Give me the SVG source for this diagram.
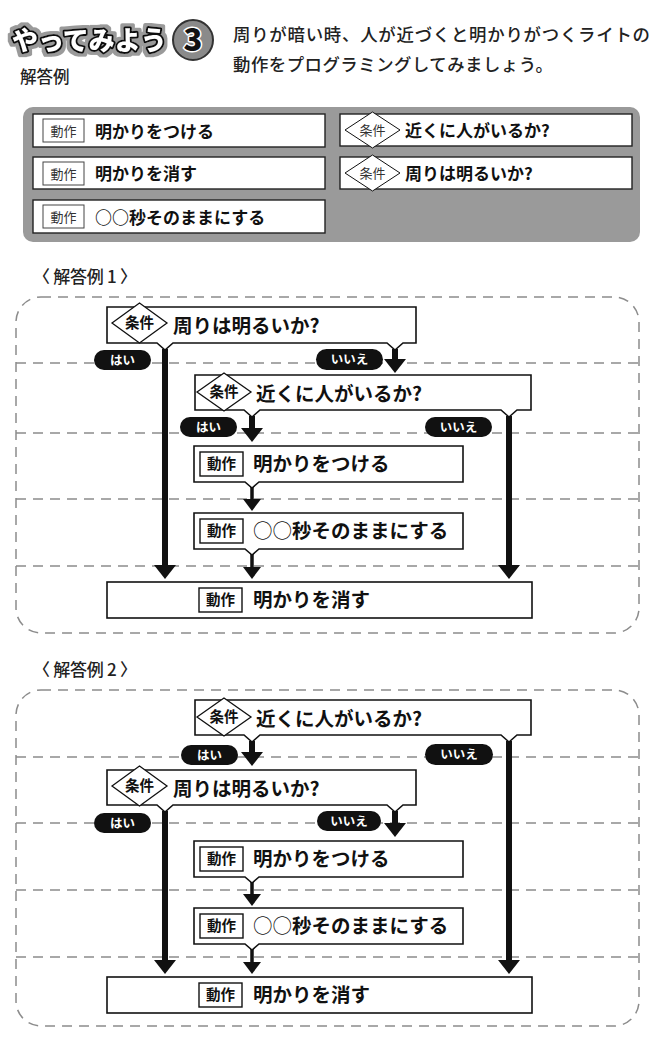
<svg xmlns="http://www.w3.org/2000/svg" width="656" height="1041" viewBox="0 0 656 1041">
<style>
text{font-family:"Noto Sans CJK JP","Noto Sans CJK SC",sans-serif;fill:#111}
.box{fill:#fff;stroke:#111;stroke-width:1.6}
.pbox{fill:#fff;stroke:#222;stroke-width:1.4}
.lbl{fill:#fff;stroke:#111;stroke-width:1.4}
.plbl{fill:#fff;stroke:#444;stroke-width:1}
.dia{fill:#fff;stroke:#111;stroke-width:1.3}
.t{font-size:19.5px;font-weight:700}
.pt{font-size:17px;font-weight:700}
.tl{font-size:14.5px;font-weight:700;text-anchor:middle}
.ptl{font-size:13px;font-weight:400;text-anchor:middle;fill:#333}
.pill{fill:#111}
.yn{font-size:12.5px;font-weight:700;text-anchor:middle;fill:#fff}
.dash{fill:none;stroke:#8c8c8c;stroke-width:1.5;stroke-dasharray:10 7}
.sh{stroke:#111;stroke-width:6;fill:none}
.sh2{stroke:#111;stroke-width:3.5;fill:none}
.hd{font-size:17.4px;font-weight:500;fill:#222}
</style>
<defs>
<marker id="ah" markerUnits="userSpaceOnUse" markerWidth="14" markerHeight="22" refX="0" refY="11" orient="auto"><path d="M0,0 L14,11 L0,22 Z" fill="#111"/></marker>
<marker id="ah2" markerUnits="userSpaceOnUse" markerWidth="12" markerHeight="18" refX="0" refY="9" orient="auto"><path d="M0,0 L12,9 L0,18 Z" fill="#111"/></marker>
<filter id="halo" x="-10%" y="-30%" width="120%" height="160%">
<feMorphology in="SourceAlpha" operator="dilate" radius="2.5" result="d"/>
<feFlood flood-color="#9a9a9a"/>
<feComposite in2="d" operator="in" result="g"/>
<feMerge><feMergeNode in="g"/><feMergeNode in="SourceGraphic"/></feMerge>
</filter>
</defs>
<rect width="656" height="1041" fill="#fff"/>

<!-- header -->
<g id="title">
<text x="12" y="50" font-size="26" font-weight="900" stroke="#111" stroke-width="4" stroke-linejoin="round" paint-order="stroke" filter="url(#halo)" style="fill:#fff">やってみよう</text>
<circle cx="193" cy="40" r="20" fill="#8a8a8a" stroke="#333" stroke-width="2"/>
<text x="193" y="51" font-size="31" font-weight="900" text-anchor="middle" stroke="#fff" stroke-width="3" paint-order="stroke" stroke-linejoin="round">3</text>
<text class="hd" x="233" y="41" textLength="417" lengthAdjust="spacing">周りが暗い時、人が近づくと明かりがつくライトの</text>
<text class="hd" x="233" y="71" textLength="320" lengthAdjust="spacing">動作をプログラミングしてみましょう。</text>
<text x="20" y="83" font-size="16.5" font-weight="500" style="fill:#222">解答例</text>
</g>

<!-- palette -->
<g id="palette">
<rect x="23" y="107" width="617" height="135" rx="10" fill="#9a9a9a"/>
<g id="p-on">
<rect class="pbox" x="33" y="114" width="292" height="33"/>
<rect class="plbl" x="43" y="119" width="41" height="23"/>
<text class="ptl" x="63.5" y="135.5">動作</text>
<text class="pt" x="95" y="137.5">明かりをつける</text>
</g>
<g id="p-off">
<rect class="pbox" x="33" y="157" width="292" height="32"/>
<rect class="plbl" x="43" y="162" width="41" height="23"/>
<text class="ptl" x="63.5" y="178.5">動作</text>
<text class="pt" x="95" y="180">明かりを消す</text>
</g>
<g id="p-wait">
<rect class="pbox" x="33" y="200" width="292" height="33"/>
<rect class="plbl" x="43" y="205" width="41" height="23"/>
<text class="ptl" x="63.5" y="221.5">動作</text>
<text class="pt" x="95" y="223.5">○○秒そのままにする</text>
</g>
<g id="p-near">
<rect class="pbox" x="340" y="114" width="292" height="32"/>
<polygon class="dia" points="345,130 372.5,112 400,130 372.5,148" style="stroke-width:1"/>
<text class="ptl" x="372.5" y="135">条件</text>
<text class="pt" x="405" y="137">近くに人がいるか?</text>
</g>
<g id="p-bright">
<rect class="pbox" x="340" y="157" width="292" height="32"/>
<polygon class="dia" points="345,173 372.5,155 400,173 372.5,191" style="stroke-width:1"/>
<text class="ptl" x="372.5" y="178">条件</text>
<text class="pt" x="405" y="180">周りは明るいか?</text>
</g>
</g>

<!-- answer 1 -->
<text x="33" y="283" font-size="17" font-weight="500" textLength="104" lengthAdjust="spacing" style="fill:#222">〈 解答例 1 〉</text>
<g id="frame1">
<rect class="dash" x="16" y="297" width="623" height="336" rx="25"/>
<path class="dash" d="M16,363 H639 M16,433 H639 M16,499 H639 M16,566 H639"/>
</g>

<g id="connectors1">
<line class="sh" x1="165" y1="349" x2="165" y2="565" marker-end="url(#ah)"/>
<line class="sh" x1="395" y1="349" x2="395" y2="359" marker-end="url(#ah)"/>
<line class="sh" x1="252" y1="416" x2="252" y2="428" marker-end="url(#ah)"/>
<line class="sh" x1="509" y1="416" x2="509" y2="565" marker-end="url(#ah)"/>
<line class="sh2" x1="252" y1="487" x2="252" y2="499" marker-end="url(#ah2)"/>
<line class="sh2" x1="252" y1="554" x2="252" y2="567" marker-end="url(#ah2)"/>
</g>

<g id="a1-bright">
<path class="box" d="M107,307 H416 V343 H403 L395,350 L387,343 H173 L165,350 L157,343 H107 Z"/>
<polygon class="dia" points="112,323 139.5,303 167,323 139.5,343"/>
<text class="tl" x="139.5" y="328">条件</text>
<text class="t" x="173" y="333">周りは明るいか?</text>
</g>
<g id="a1-near">
<path class="box" d="M195,375 H531 V410 H517 L509,417 L501,410 H260 L252,417 L244,410 H195 Z"/>
<polygon class="dia" points="197,392 224,373 251,392 224,411"/>
<text class="tl" x="224" y="397">条件</text>
<text class="t" x="256" y="401">近くに人がいるか?</text>
</g>
<g id="a1-on">
<path class="box" d="M194,446 H463 V482 H259 L252,488 L245,482 H194 Z"/>
<rect class="lbl" x="200" y="452" width="43" height="24"/>
<text class="tl" x="221.5" y="469">動作</text>
<text class="t" x="253" y="471">明かりをつける</text>
</g>
<g id="a1-wait">
<path class="box" d="M194,513 H463 V549 H259 L252,555 L245,549 H194 Z"/>
<rect class="lbl" x="200" y="519" width="43" height="24"/>
<text class="tl" x="221.5" y="536">動作</text>
<text class="t" x="253" y="538"><tspan font-weight="400">○○</tspan>秒そのままにする</text>
</g>
<g id="a1-off">
<rect class="box" x="107" y="582" width="425" height="36"/>
<rect class="lbl" x="199" y="588" width="43" height="24"/>
<text class="tl" x="220.5" y="605">動作</text>
<text class="t" x="253" y="607">明かりを消す</text>
</g>
<g id="a1-labels">
<rect class="pill" x="94" y="350" width="57" height="20" rx="10"/>
<text class="yn" x="122.5" y="364.5">はい</text>
<rect class="pill" x="316" y="349" width="67" height="21" rx="10.5"/>
<text class="yn" x="349.5" y="364">いいえ</text>
<rect class="pill" x="180" y="417" width="57" height="20" rx="10"/>
<text class="yn" x="208.5" y="431.5">はい</text>
<rect class="pill" x="425" y="417" width="67" height="20" rx="10"/>
<text class="yn" x="458.5" y="431.5">いいえ</text>
</g>

<!-- answer 2 -->
<text x="33" y="676" font-size="17" font-weight="500" textLength="104" lengthAdjust="spacing" style="fill:#222">〈 解答例 2 〉</text>
<g id="frame2">
<rect class="dash" x="16" y="690" width="623" height="336" rx="25"/>
<path class="dash" d="M16,757 H639 M16,823 H639 M16,890 H639 M16,957 H639"/>
</g>

<g id="connectors2">
<line class="sh" x1="252" y1="741" x2="252" y2="752" marker-end="url(#ah)"/>
<line class="sh" x1="509" y1="741" x2="509" y2="960" marker-end="url(#ah)"/>
<line class="sh" x1="165" y1="811" x2="165" y2="960" marker-end="url(#ah)"/>
<line class="sh" x1="395" y1="811" x2="395" y2="823" marker-end="url(#ah)"/>
<line class="sh2" x1="252" y1="882" x2="252" y2="894" marker-end="url(#ah2)"/>
<line class="sh2" x1="252" y1="949" x2="252" y2="962" marker-end="url(#ah2)"/>
</g>

<g id="a2-near">
<path class="box" d="M195,700 H531 V735 H517 L509,742 L501,735 H260 L252,742 L244,735 H195 Z"/>
<polygon class="dia" points="197,717 224,698 251,717 224,736"/>
<text class="tl" x="224" y="722">条件</text>
<text class="t" x="256" y="726">近くに人がいるか?</text>
</g>
<g id="a2-bright">
<path class="box" d="M107,770 H416 V805 H403 L395,812 L387,805 H173 L165,812 L157,805 H107 Z"/>
<polygon class="dia" points="112,786 139.5,766 167,786 139.5,806"/>
<text class="tl" x="139.5" y="791">条件</text>
<text class="t" x="173" y="796">周りは明るいか?</text>
</g>
<g id="a2-on">
<path class="box" d="M194,841 H463 V877 H259 L252,883 L245,877 H194 Z"/>
<rect class="lbl" x="200" y="847" width="43" height="24"/>
<text class="tl" x="221.5" y="864">動作</text>
<text class="t" x="253" y="866">明かりをつける</text>
</g>
<g id="a2-wait">
<path class="box" d="M194,908 H463 V944 H259 L252,950 L245,944 H194 Z"/>
<rect class="lbl" x="200" y="914" width="43" height="24"/>
<text class="tl" x="221.5" y="931">動作</text>
<text class="t" x="253" y="933"><tspan font-weight="400">○○</tspan>秒そのままにする</text>
</g>
<g id="a2-off">
<rect class="box" x="107" y="977" width="425" height="36"/>
<rect class="lbl" x="199" y="983" width="43" height="24"/>
<text class="tl" x="220.5" y="1000">動作</text>
<text class="t" x="253" y="1002">明かりを消す</text>
</g>
<g id="a2-labels">
<rect class="pill" x="181" y="745" width="57" height="20" rx="10"/>
<text class="yn" x="209.5" y="759.5">はい</text>
<rect class="pill" x="425" y="744" width="68" height="21" rx="10.5"/>
<text class="yn" x="459" y="759">いいえ</text>
<rect class="pill" x="94" y="813" width="57" height="20" rx="10"/>
<text class="yn" x="122.5" y="827.5">はい</text>
<rect class="pill" x="317" y="811" width="64" height="20" rx="10"/>
<text class="yn" x="349" y="825.5">いいえ</text>
</g>
</svg>
